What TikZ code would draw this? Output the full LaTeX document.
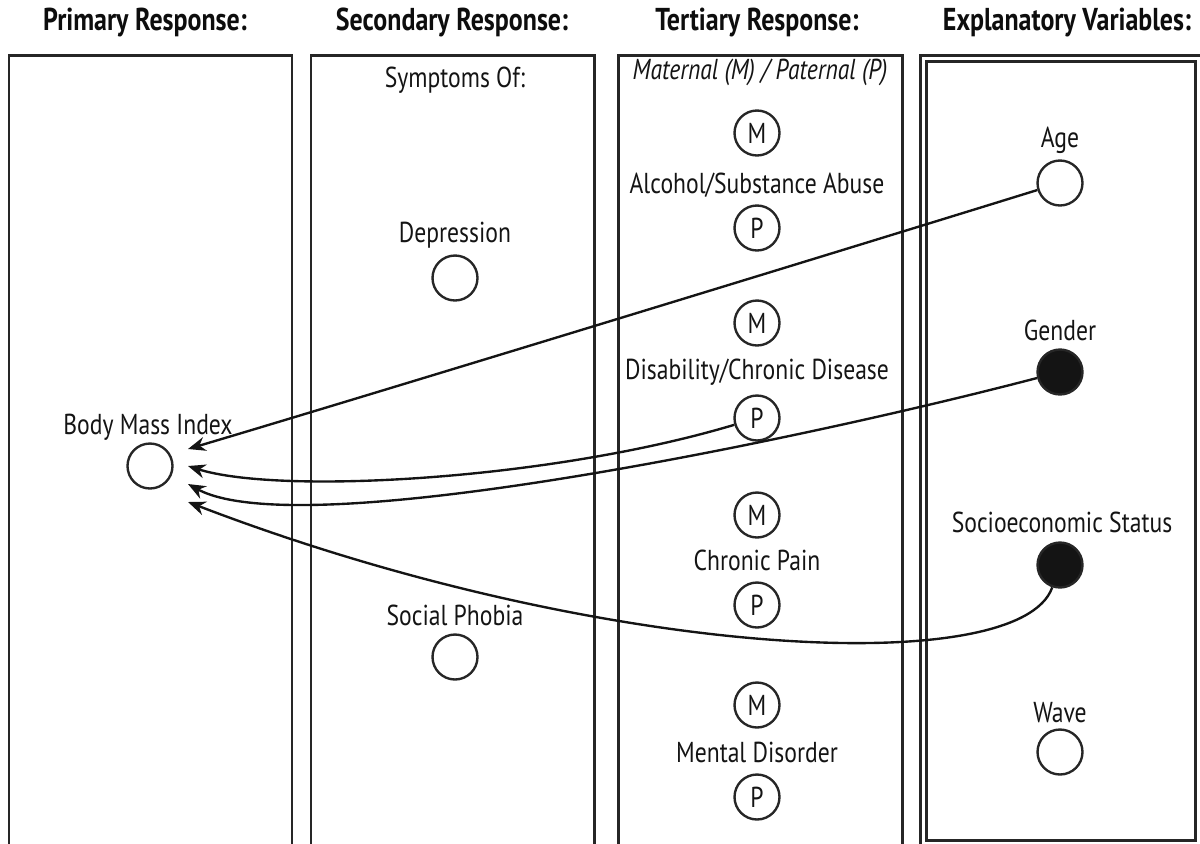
\documentclass[tikz,border=0pt]{standalone}
\usepackage{fontspec}
\setmainfont{PT Sans}[FakeStretch=0.82]
\usetikzlibrary{arrows.meta}
\begin{document}
\begin{tikzpicture}[x=0.02cm,y=-0.02cm,
  panel/.style={line width=1.7pt, draw=black!85},
  var/.style={circle, draw=black!85, line width=1.35pt, minimum size=0.9cm, inner sep=0pt,
    font=\fontsize{16.4}{20}\selectfont, text=black!92},
  filledvar/.style={var, fill=black!92},
  lbl/.style={font=\fontsize{16.4}{20}\selectfont, inner sep=0pt, text=black!92},
  head/.style={font=\fontsize{18}{22}\selectfont\bfseries, inner sep=0pt, text=black!95},
  link/.style={line width=1.35pt, draw=black!92, -{Stealth[length=10pt,width=8pt]}}
]
\useasboundingbox (0,0) rectangle (1200,843);
\clip (0,0) rectangle (1200,843);

% column headings
\node[head] (h1) at (145,22) {Primary Response:};
\node[head] (h2) at (452,22) {Secondary Response:};
\node[head] (h3) at (757,22) {Tertiary Response:};
\node[head] (h4) at (1067,22) {Explanatory Variables:};

% panels (they run past the lower edge)
\draw[panel] (9,870) |- (292,55) -- (292,870);
\draw[panel] (311,870) |- (594,55) -- (594,870);
\draw[panel] (618,870) |- (902,55) -- (902,870);
\draw[panel] (920,870) |- (1215,55);
\draw[panel] (926,840) rectangle (1195,61);

% primary response
\node[lbl] (bmil) at (148,427) {Body Mass Index};
\node[var] (bmi) at (150,466) {};
\coordinate (bmi1) at (188,449);
\coordinate (bmi2) at (188,466);
\coordinate (bmi3) at (188,484);
\coordinate (bmi4) at (188,502);

% secondary response
\node[lbl] (symp) at (455,80) {Symptoms Of:};
\node[lbl] (depl) at (455,235) {Depression};
\node[var] (dep) at (455,278) {};
\node[lbl] (socl) at (455,615) {Social Phobia};
\node[var] (soc) at (455,657) {};

% tertiary response
\node[lbl, font=\fontsize{16.4}{20}\selectfont\itshape] (mp) at (760,72) {Maternal (M) / Paternal (P)};
\node[var] (alcm) at (757,133) {M};
\node[lbl] (alcl) at (757,185) {Alcohol/Substance Abuse};
\node[var] (alcp) at (757,228) {P};
\node[var] (dism) at (757,323) {M};
\node[lbl] (disl) at (757,372) {Disability/Chronic Disease};
\node[var] (disp) at (757,418) {P};
\node[var] (painm) at (757,515) {M};
\node[lbl] (painl) at (757,560) {Chronic Pain};
\node[var] (painp) at (757,605) {P};
\node[var] (mentm) at (757,705) {M};
\node[lbl] (mentl) at (757,752) {Mental Disorder};
\node[var] (mentp) at (757,797) {P};

% explanatory variables
\node[lbl] (agel) at (1060,140) {Age};
\node[var] (age) at (1060,183) {};
\node[lbl] (genl) at (1060,330) {Gender};
\node[filledvar] (gen) at (1060,372) {};
\node[lbl] (sesl) at (1062,522) {Socioeconomic Status};
\node[filledvar] (ses) at (1060,565) {};
\node[lbl] (wavel) at (1060,713) {Wave};
\node[var] (wave) at (1060,752) {};

% effects on body mass index
\draw[link] (age) .. controls (860,245) and (360,398) .. (bmi1);
\draw[link] (disp) .. controls (550,480) and (280,495) .. (bmi2);
\draw[link] (gen) .. controls (800,440) and (300,545) .. (bmi3);
\draw[link] (ses) .. controls (1020,680) and (600,660) .. (bmi4);
\end{tikzpicture}
\end{document}
